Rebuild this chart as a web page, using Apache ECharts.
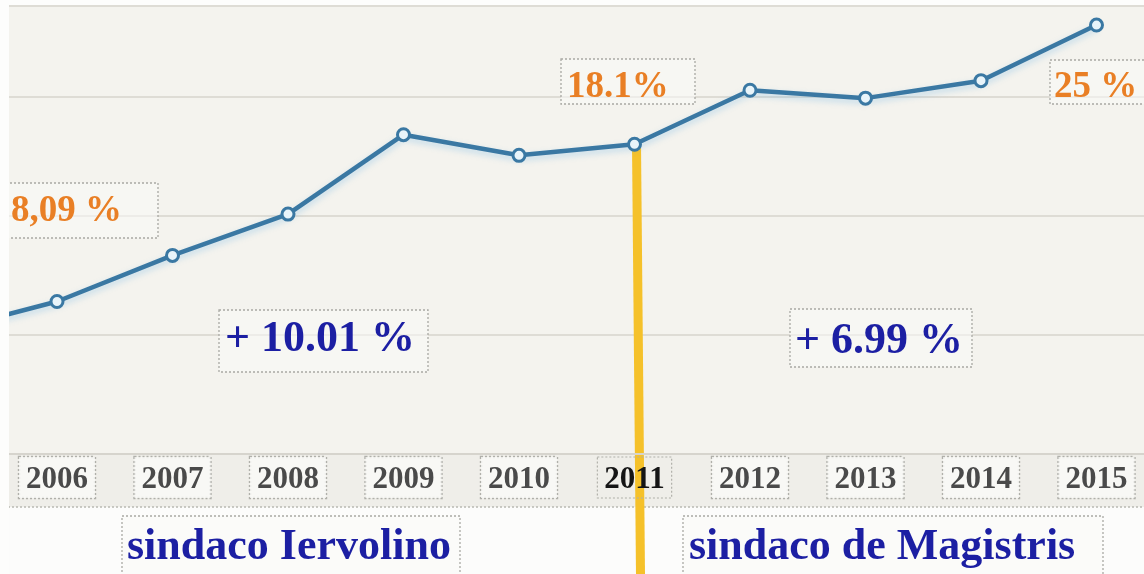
<!DOCTYPE html>
<html><head><meta charset="utf-8">
<script src="https://cdn.jsdelivr.net/npm/echarts@6/dist/echarts.min.js"></script>
<style>html,body{margin:0;padding:0;background:#fcfcfb}#c{width:1144px;height:574px}</style>
</head><body><div id="c"></div>
<script>
// ---- data ----
const years = ['2005','2006','2007','2008','2009','2010','2011','2012','2013','2014','2015','2016'];
const rate  = [6.2, 8.1, 11.0, 13.6, 18.6, 17.3, 18.0, 21.4, 20.9, 22.0, 25.5, null];
const highlightYear = '2011';
const valueLabels = ['8,09 %', '18.1%', '25 %'];
const deltaLabels = ['+ 10.01 %', '+ 6.99 %'];
const mayorLabels = ['sindaco Iervolino', 'sindaco de Magistris'];

const SERIF = '"Liberation Serif","DejaVu Serif",serif';
const chart = echarts.init(document.getElementById('c'), null, {renderer:'canvas'});

function box(x, y, w, h, text, color, size, tx, ty) {
  return {
    type:'group', z:5,
    children:[
      {type:'rect', z:5, shape:{x:x, y:y, width:w, height:h},
       style:{fill:'rgba(250,250,247,0.55)', stroke:'#a9a9a4', lineWidth:1.3, lineDash:[2,2]}},
      {type:'text', z:6, x:tx, y:ty,
       style:{text:text, fill:color, font:'bold '+size+'px '+SERIF, textAlign:'left', textVerticalAlign:'middle'}}
    ]
  };
}

const option = {
  backgroundColor:'#fcfcfb',
  animation:false,
  grid:{left:-58.5, right:-68, top:6, bottom:120, containLabel:false, outerBoundsMode:'none',
        show:true, backgroundColor:'#f4f3ee', borderWidth:0},
  xAxis:{
    type:'category', data:years, boundaryGap:false, z:6,
    axisTick:{show:false},
    axisLine:{show:true, onZero:false, lineStyle:{color:'#d6d4cd', width:2}},
    axisLabel:{
      interval:0, margin:7, hideOverlap:false,
      formatter:function(v){ return v===highlightYear ? '{h|'+v+'}' : '{n|'+v+'}'; },
      rich:{
        n:{fontFamily:SERIF, fontWeight:'bold', fontSize:31, color:'#4a4a4a', lineHeight:33,
           padding:[7,7,3,7], borderColor:'#b0b0aa', borderWidth:1.2, borderType:[2,2], backgroundColor:'rgba(250,250,248,0.8)'},
        h:{fontFamily:SERIF, fontWeight:'bold', fontSize:31, color:'#151515', lineHeight:33,
           padding:[7,7,3,7], borderColor:'#b0b0aa', borderWidth:1.2, borderType:[2,2]}
      }
    },
    splitLine:{show:false}
  },
  yAxis:[
    {type:'value', min:-1.5, max:26.7, show:false, splitLine:{show:false}},
    {type:'value', min:0, max:28.2, interval:7.5,
     axisLine:{show:false}, axisTick:{show:false}, axisLabel:{show:false},
     splitLine:{show:true, lineStyle:{color:'#dedcd5', width:2}}}
  ],
  series:[{
    type:'line', data:rate, yAxisIndex:0, z:4,
    symbol:'circle', symbolSize:12,
    itemStyle:{color:'#e8f4fa', borderColor:'#3a78a3', borderWidth:3},
    lineStyle:{color:'#3a78a3', width:4.5, shadowColor:'rgba(90,170,225,0.35)', shadowBlur:6, shadowOffsetY:3}
  }]
};
chart.setOption(option);

const p = chart.convertToPixel({xAxisIndex:0, yAxisIndex:0}, [highlightYear, rate[years.indexOf(highlightYear)]]);

chart.setOption({
  graphic:[
    {type:'rect', z:-1, shape:{x:0, y:455, width:1144, height:52}, style:{fill:'#efeee9'}},
    {type:'line', z:-1, shape:{x1:0, y1:507, x2:1144, y2:507}, style:{stroke:'#b9b9b3', lineWidth:1.3, lineDash:[2,2]}},
    {type:'line', z:3, shape:{x1:p[0]+2, y1:p[1], x2:p[0]+6, y2:574},
     style:{stroke:'#f5c12a', lineWidth:9}},
    {type:'rect', z:20, shape:{x:0, y:0, width:9, height:574}, style:{fill:'#fdfdfc'}},
    {type:'rect', z:20, shape:{x:0, y:0, width:1144, height:5}, style:{fill:'#fdfdfc'}},
    box(-10, 183, 168, 55, valueLabels[0], '#e97f25', 37, 11, 211),
    box(561, 59, 134, 45, valueLabels[1], '#e97f25', 37, 567, 87),
    box(1050, 60, 110, 44, valueLabels[2], '#e97f25', 37, 1054, 87),
    box(219, 310, 209, 62, deltaLabels[0], '#1c1fa3', 44, 225, 340),
    box(790, 309, 182, 58, deltaLabels[1], '#1c1fa3', 44, 795, 342),
    box(122, 516, 338, 70, mayorLabels[0], '#1c1fa3', 44, 127, 548),
    box(683, 516, 420, 70, mayorLabels[1], '#1c1fa3', 44, 689, 548)
  ]
});
</script></body></html>
